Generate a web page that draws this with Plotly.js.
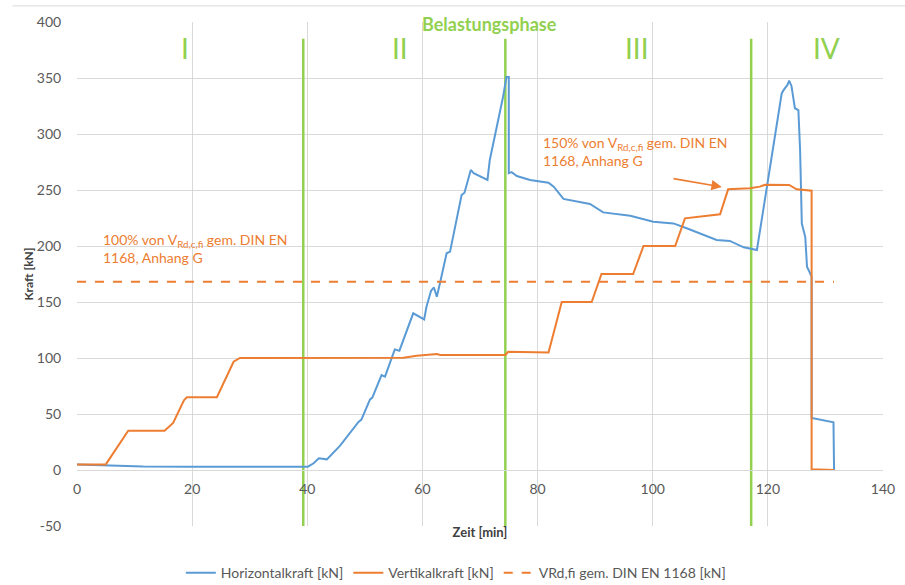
<!DOCTYPE html>
<html>
<head>
<meta charset="utf-8">
<script src="https://cdn.plot.ly/plotly-3.0.1.min.js"></script>
<style>html,body{margin:0;padding:0;background:#fff;}#chart{width:905px;height:585px;}</style>
</head>
<body>
<div id="chart"></div>
<script>
// Horizontalkraft [kN]
const horizontalX = [0,5,11.5,20,30,39.3,40.1,41.1,42,43.4,45.7,48.9,49.4,50.9,51.3,52.9,53.5,55.2,56,58.4,60.3,60.7,61.5,62,62.5,63.1,64.2,64.8,66.8,67.3,68.4,68.9,71.3,71.7,74,74.6,75,75,75.5,76.4,78.7,81.9,82.8,84.5,89.1,91.4,96.1,100.1,103.6,105.9,111.1,113.4,115.8,118.1,122.4,122.7,123.4,123.7,124.1,124.7,125.3,125.6,125.9,126.5,126.8,127.3,127.6,127.6,131.4,131.5];
const horizontalY = [5,4.2,3.2,3,3,3,3,6,10.4,9.5,21.7,43,45,63,64.6,84.8,83.3,107.7,106.5,139.9,134.5,145.8,160,163,154.7,168,193.5,195,245.5,247.6,267.9,265,259,276.8,333,351,351,265,266,262.5,259,256.5,253,242,237.5,230,227,221.7,220.2,215.8,205.4,204.5,198.8,196.4,336,339,343.8,347.6,342.9,323,321.4,285.7,220,208,181.5,176,172.6,46.4,42.6,0];
// Vertikalkraft [kN]
const verticalX = [0,5,8.9,15.2,16.7,18.6,19.1,24.3,27.2,28.3,56.7,59,62.5,63.1,74.4,74.9,81.9,84.2,89.4,91.1,96.6,98.4,103.9,105.6,111.7,113.1,116.9,118.6,119.5,123.7,125,126.8,127.6,127.6,131.5];
const verticalY = [5,5,35,35,42,62.5,65,65,96.7,100,100.3,102,103.6,102.7,102.7,105.6,105,150,150,175,175,200,200,224.7,228.3,250.6,251.5,253,254.7,254.5,250.6,249.4,249.4,0.6,0];
// VRd,fi gem. DIN EN 1168 [kN]
const vrdX = [0,131.5];
const vrdY = [168,168];
// Phases
const phaseBounds = [39.3,74.4,117.1];
const phaseLabels = ['I','II','III','IV'];
const phaseLabelX = [18.8,56.1,97.3,130.1];

const xTicks = [0,20,40,60,80,100,120,140];
const yTicks = [-50,0,50,100,150,200,250,300,350,400];

const blue = '#5B9BD5', orange = '#ED7D31', green = '#92D050';
const font = 'Lato, "Liberation Sans", sans-serif';

const traces = [
  {x: horizontalX, y: horizontalY, mode: 'lines', name: 'Horizontalkraft [kN]', line: {color: blue, width: 2}},
  {x: verticalX, y: verticalY, mode: 'lines', name: 'Vertikalkraft [kN]', line: {color: orange, width: 2}},
  {x: vrdX, y: vrdY, mode: 'lines', name: 'VRd,fi gem. DIN EN 1168 [kN]', line: {color: orange, width: 2, dash: 'dash'}}
];

const shapes = phaseBounds.map(b => ({type: 'line', xref: 'x', yref: 'y', x0: b, x1: b, y0: -50, y1: 385, line: {color: green, width: 2.5}, layer: 'between'}));
shapes.push({type: 'line', xref: 'paper', yref: 'paper', x0: -0.08, x1: 1.03, y0: 1.032, y1: 1.032, line: {color: '#d9d9d9', width: 1}});

const annotations = phaseLabels.map((t, i) => ({x: phaseLabelX[i], y: 377, xref: 'x', yref: 'y', text: t, showarrow: false, font: {family: font, size: 28, color: green}}));
annotations.push({x: 71.7, y: 398, xref: 'x', yref: 'y', text: '<b>Belastungsphase</b>', showarrow: false, font: {family: font, size: 18, color: green}});
annotations.push({x: 4.2, y: 197.5, xref: 'x', yref: 'y', xanchor: 'left', yanchor: 'middle', align: 'left', showarrow: false,
  text: '100% von V<sub>Rd,c,fi</sub> gem. DIN EN<br>1168, Anhang G', font: {family: font, size: 14, color: orange}});
annotations.push({x: 80.6, y: 284.5, xref: 'x', yref: 'y', xanchor: 'left', yanchor: 'middle', align: 'left', showarrow: false,
  text: '150% von V<sub>Rd,c,fi</sub> gem. DIN EN<br>1168, Anhang G', font: {family: font, size: 14, color: orange}});
annotations.push({x: 112.0, y: 252.7, ax: 103.0, ay: 260.7, xref: 'x', yref: 'y', axref: 'x', ayref: 'y', text: ' ', showarrow: true,
  arrowhead: 2, arrowsize: 1.3, arrowwidth: 1.6, arrowcolor: orange});

const layout = {
  width: 905, height: 585,
  margin: {l: 77, r: 22, t: 22, b: 59, autoexpand: false},
  paper_bgcolor: '#fff', plot_bgcolor: '#fff',
  font: {family: font, size: 14, color: '#595959'},
  showlegend: true,
  legend: {orientation: 'h', x: 0.47, xanchor: 'center', y: -0.062, yanchor: 'top', font: {family: font, size: 14, color: '#595959'}, itemwidth: 30, tracegroupgap: 0},
  xaxis: {range: [0, 140], tickvals: xTicks, ticktext: xTicks.map(String), showgrid: true, gridcolor: '#d9d9d9', zeroline: false,
    showline: true, linecolor: '#d9d9d9', anchor: 'free', position: 50/450, automargin: false,
    ticks: 'outside', ticklen: 6, tickcolor: 'rgba(0,0,0,0)',
    title: {text: '<b>Zeit [min]</b>', font: {family: font, size: 13, color: '#404040'}, standoff: 32}},
  yaxis: {range: [-50, 400], tickvals: yTicks, ticktext: yTicks.map(String), showgrid: true, gridcolor: '#d9d9d9', zeroline: false, automargin: false,
    ticks: 'outside', ticklen: 12, tickcolor: 'rgba(0,0,0,0)',
    title: {text: '<b>Kraft [kN]</b>', font: {family: font, size: 12, color: '#404040'}, standoff: 0}},
  shapes: shapes,
  annotations: annotations
};

Plotly.newPlot('chart', traces, layout, {displayModeBar: false, staticPlot: true});
</script>
</body>
</html>
